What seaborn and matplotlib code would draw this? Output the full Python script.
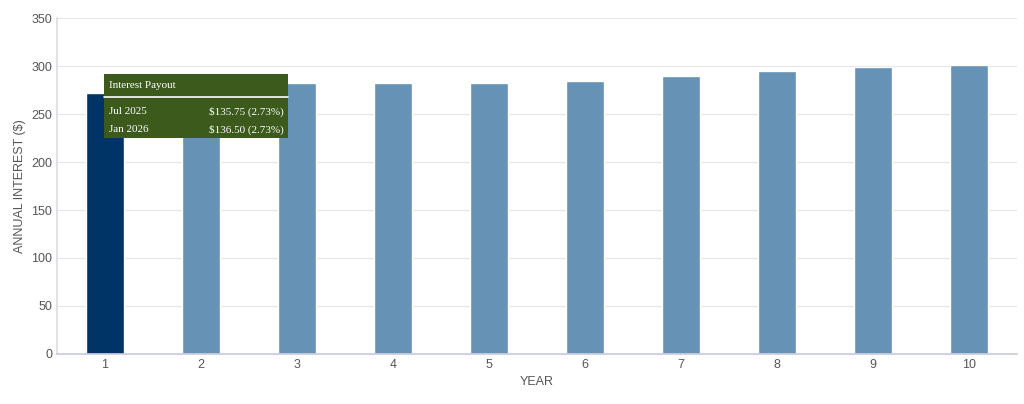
import matplotlib
matplotlib.use("Agg")
import matplotlib.pyplot as plt
import seaborn as sns
import pandas as pd
from matplotlib.patches import Rectangle
from matplotlib.lines import Line2D

years = ["1", "2", "3", "4", "5", "6", "7", "8", "9", "10"]
interest = [272.25, 278, 282, 282, 282, 285, 290, 295, 299, 301]
colors = ["#003366"] + ["#6592b5"] * 9
tip_title = "Interest Payout"
tip_rows = [("Jul 2025", "$135.75 (2.73%)"), ("Jan 2026", "$136.50 (2.73%)")]

sns.set_theme(style="white")
plt.rcParams['font.family'] = ['Liberation Sans', 'DejaVu Sans']
fig = plt.figure(figsize=(10.24, 4.04), dpi=100)
ax = fig.add_axes([0.0557, 0.124, 0.9373, 0.831])
df = pd.DataFrame({"year": years, "v": interest})
sns.barplot(data=df, x="year", y="v", hue="year", palette=colors, legend=False,
            width=0.4, ax=ax, saturation=1)
ax.set_ylim(0, 350)
ax.set_yticks(range(0, 351, 50))
ax.yaxis.grid(True, color="#e6e6ee", lw=0.8)
ax.set_axisbelow(True)
for s in ["top", "right"]:
    ax.spines[s].set_visible(False)
ax.spines["left"].set_color("#dcdce6")
ax.spines["bottom"].set_color("#c8cce0")
ax.tick_params(colors="#555555", labelsize=9, length=0)
ax.set_xlabel("YEAR", color="#555555", fontsize=9)
ax.set_ylabel("ANNUAL INTEREST ($)", color="#555555", fontsize=9)

# tooltip
x0, w = 104/1024, 184/1024
y0, h = (404-138)/404, 64/404
fig.add_artist(Rectangle((x0, y0), w, h, transform=fig.transFigure,
                         facecolor="#3b5a1c", edgecolor="none", zorder=10))
sy = (404-97)/404
fig.add_artist(Line2D([x0, x0+w], [sy, sy], transform=fig.transFigure, color="white", lw=1.2, zorder=11))
serif = ['Liberation Serif', 'DejaVu Serif']
fig.text(x0+5/1024, (404-85)/404, tip_title, color="white", fontsize=8, family=serif, va="center", zorder=12)
for i, (a, b) in enumerate(tip_rows):
    yy = (404-(112+18*i))/404
    fig.text(x0+5/1024, yy, a, color="white", fontsize=8, family=serif, va="center", zorder=12)
    fig.text(x0+w-4/1024, yy, b, color="white", fontsize=8, family=serif, va="center", ha="right", zorder=12)

fig.savefig("out.png", dpi=100)
